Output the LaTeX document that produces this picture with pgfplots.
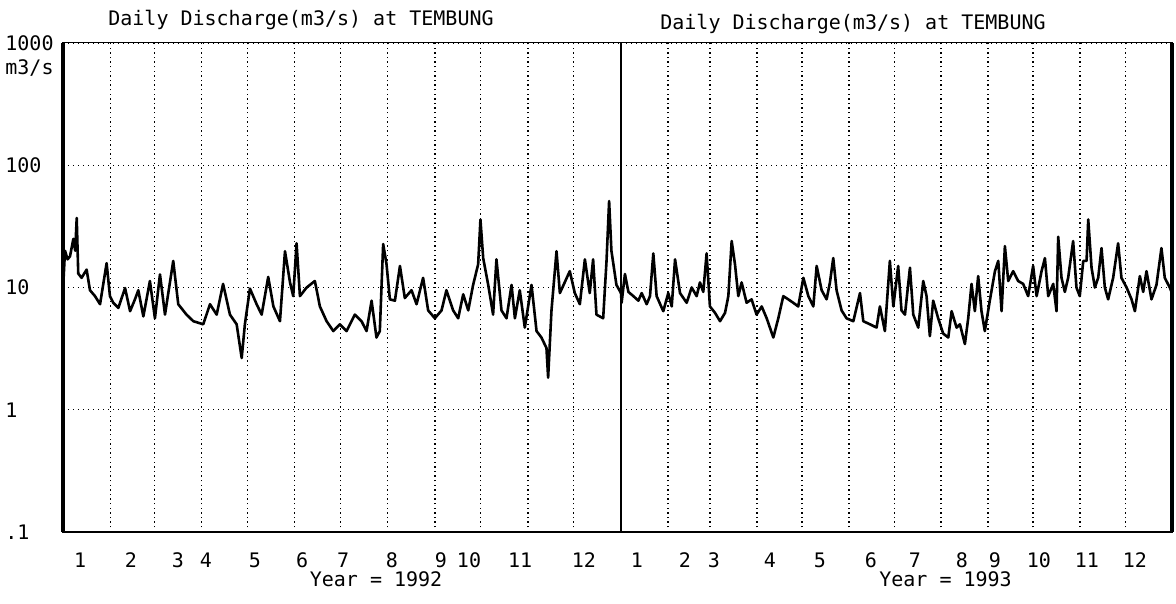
\documentclass[border=0pt]{standalone}
\usepackage{pgfplots}
\pgfplotsset{compat=1.18}
\usepackage{fontspec}
\setmainfont{DejaVu Sans Mono}
\begin{document}
\begin{tikzpicture}[x=1pt,y=1pt]
\path[use as bounding box] (0,0) rectangle (588,302);
% 1992
\begin{axis}[
  scale only axis, height=244.5pt, clip=false,
  ymode=log, ymin=0.1, ymax=1000,
  ytick={0.1,1,10,100,1000},
  yminorticks=false,
  ymajorgrids, xminorgrids,
  major grid style={black, line width=0.6pt, dash pattern=on 0.6pt off 1.9pt},
  minor grid style={black, line width=0.7pt, dash pattern=on 0.7pt off 1.6pt},
  tick style={draw=none},
  axis line style={line width=0.5pt},
  xticklabel style={anchor=center, yshift=-14pt, font=\fontsize{10}{12}\selectfont},
  /pgf/number format/assume math mode=true,
  at={(31.5pt,36pt)}, anchor=south west, width=279pt,
  xmin=0, xmax=366,
  xtick={11.2,44.6,75.4,93.8,125.9,156.8,183.7,215.8,247.9,266.3,299.8,341.7},
  xticklabels={1,2,3,4,5,6,7,8,9,10,11,12},
  minor xtick={31,60,91,121,152,182,213,244,274,305,335},
  yticklabels={.1,1,10,100,1000},
  yticklabel style={anchor=west, xshift=-29pt, inner sep=0pt, font=\fontsize{10}{12}\selectfont},
]
\addplot[black, line width=1.3pt, line join=round] coordinates {
(0,9.5)(1.3,20)(3,17)(4.6,18)(6.8,25)(8,20)(9,37)(10,13)(12.2,12)(15.5,14)
(17.7,9.5)(21,8.5)(24.3,7.3)(28.6,15.8)(30.8,8.5)(33,7.5)(36.3,6.8)(40.7,9.9)
(44,6.4)(47.2,8)(49.4,9.5)(52.7,5.8)(57,11.3)(60.3,5.6)(63.6,12.8)(66.9,6.0)
(72.3,16.5)(75.6,7.3)(81,6.0)(85.5,5.3)(92,5.0)(96.4,7.3)(100.8,6.0)(105,10.7)
(109.5,6.0)(113.9,5.0)(117.2,2.65)(119.3,5.0)(122.6,9.8)(127,7.3)(130.3,6.0)
(134.6,12.2)(138,7.0)(142.3,5.3)(145.6,19.8)(148.9,11)(151,8.5)(153.2,23)
(155.4,8.5)(159.8,10)(165.2,11.3)(168.5,7.0)(172.9,5.3)(177.3,4.4)(181.6,5.0)
(186,4.4)(191.4,6.0)(195.8,5.3)(199.1,4.4)(202.4,7.8)(205.6,3.9)(207.8,4.4)
(210,22.7)(212.2,15.5)(214.4,8.0)(217.7,7.8)(221,15)(224.2,8.2)(228.6,9.5)
(231.9,7.3)(236.2,12)(239.5,6.5)(243.9,5.6)(248.3,6.5)(251.5,9.5)(255.9,6.5)
(259.2,5.6)(262.5,8.8)(265.8,6.5)(269,10.5)(272.3,15.5)(273.8,36)(275.6,17.4)
(278.9,10.5)(282.1,6.0)(284.3,17)(287.6,6.5)(290.9,5.6)(294.2,10.5)(296.4,5.6)
(299.6,9.5)(302.9,4.7)(307.3,10.5)(310.6,4.4)(313.8,3.9)(317.1,3.2)(318.2,1.83)
(320.4,6.5)(323.7,19.8)(325.9,9.0)(332.4,13.6)(335.7,9.0)(339,7.3)(342.3,17)
(345.5,9.0)(347.7,17)(349.9,6.0)(354.3,5.6)(356.5,16.5)(358.2,51)(359.7,20)
(363,10.5)(366,9)
};
\draw[line width=1.6pt] (rel axis cs:0,0) -- (rel axis cs:0,1);
\node[font=\fontsize{10}{12}\selectfont] at (rel axis cs:0.561,0) [yshift=-23.5pt] {Year = 1992};
\end{axis}
% 1993
\begin{axis}[
  scale only axis, height=244.5pt, clip=false,
  ymode=log, ymin=0.1, ymax=1000,
  ytick={0.1,1,10,100,1000},
  yminorticks=false,
  ymajorgrids, xminorgrids,
  major grid style={black, line width=0.6pt, dash pattern=on 0.6pt off 1.9pt},
  minor grid style={black, line width=0.7pt, dash pattern=on 0.7pt off 1.6pt},
  tick style={draw=none},
  axis line style={line width=0.5pt},
  xticklabel style={anchor=center, yshift=-14pt, font=\fontsize{10}{12}\selectfont},
  /pgf/number format/assume math mode=true,
  at={(310.5pt,36pt)}, anchor=south west, width=275.5pt,
  xmin=0, xmax=365,
  xtick={10.6,42.4,61.6,98.7,131.8,165.6,194.7,225.8,247.7,276.8,308.6,340.4},
  xticklabels={1,2,3,4,5,6,7,8,9,10,11,12},
  minor xtick={31,59,90,120,151,181,212,243,273,304,334},
  yticklabels={},
]
\addplot[black, line width=1.3pt, line join=round] coordinates {
(0,9)(0.4,7.5)(2.6,12.9)(4.9,9.2)(8.2,8.5)(11.5,7.8)(13.7,9.0)(17,7.3)(19.2,8.5)
(21.4,19)(23.6,8.5)(28,6.4)(31.3,9.0)(33.6,7.0)(35.8,17)(39.1,9.0)(43.5,7.5)
(46.8,10)(50.1,8.5)(52.3,11)(54.5,9.2)(56.7,19)(58.9,7.0)(62.3,6.2)(65.6,5.3)
(68.9,6.2)(71.1,8.5)(73.3,24)(75.5,15.5)(77.7,8.5)(79.9,11)(83.2,7.5)(86.5,8.0)
(89.8,6.0)(93.2,7.0)(96.5,5.6)(100.9,3.9)(104.2,5.6)(107.5,8.5)(110.8,8.0)
(114.1,7.5)(117.4,7.0)(120.8,12)(124.1,8.5)(127.4,7.0)(129.6,15)(132.9,9.5)
(136.2,8.0)(138.4,11)(140.6,17.4)(142.8,9.5)(146.1,6.5)(149.4,5.6)(153.9,5.3)
(158.3,9.0)(160.5,5.3)(164.9,5.0)(169.3,4.7)(171.5,7.0)(174.8,4.4)(178.1,16.5)
(180.4,7.0)(183.6,15)(185.8,6.5)(188.1,6.0)(191.4,14.5)(193.6,6.0)(196.9,4.7)
(200.2,11.3)(202.4,8.5)(204.6,4.0)(206.8,7.8)(210.1,5.6)(213.4,4.2)(216.8,3.9)
(219,6.4)(222.3,4.7)(224.5,5.0)(227.8,3.45)(230,5.6)(232.2,10.7)(234.4,6.4)
(236.6,12.4)(238.8,6.4)(241,4.4)(244.3,7.8)(247.7,13.6)(249.9,16.5)(252.1,6.4)
(254.3,21.8)(256.5,11.3)(259.8,13.6)(263.1,11.3)(266.4,10.7)(269.7,8.5)(273,15)
(275.3,8.5)(278.6,13.6)(280.8,17.4)(283,8.5)(286.3,10.7)(288.5,6.4)(289.6,26)
(291.8,12)(294,9.2)(296.2,12)(299.5,24)(301.7,10)(303.9,8.5)(306.2,16.5)
(308.4,16.5)(309.5,36)(311.7,14.5)(313.9,10)(316.1,12)(318.3,21)(320.5,10)
(322.7,8.0)(326,12)(329.3,23)(331.5,12)(334.9,10)(338.2,8.0)(340.4,6.4)
(343.7,12.4)(345.9,9.2)(348.1,13.6)(351.4,8.0)(354.7,10.5)(358,21)(360.2,12)
(363.5,10)(365,9)
};
\draw[line width=1.3pt] (rel axis cs:0,0) -- (rel axis cs:0,1);
\draw[line width=2pt] (rel axis cs:1,0) -- (rel axis cs:1,1);
\node[font=\fontsize{10}{12}\selectfont] at (rel axis cs:0.589,0) [yshift=-23.5pt] {Year = 1993};
\end{axis}
\node[font=\fontsize{10}{12}\selectfont] at (150.5,292) {Daily Discharge(m3/s) at TEMBUNG};
\node[font=\fontsize{10}{12}\selectfont] at (426.5,290) {Daily Discharge(m3/s) at TEMBUNG};
\node[font=\fontsize{10}{12}\selectfont, anchor=west, inner sep=0pt] at (2.5,268) {m3/s};
\end{tikzpicture}
\end{document}
